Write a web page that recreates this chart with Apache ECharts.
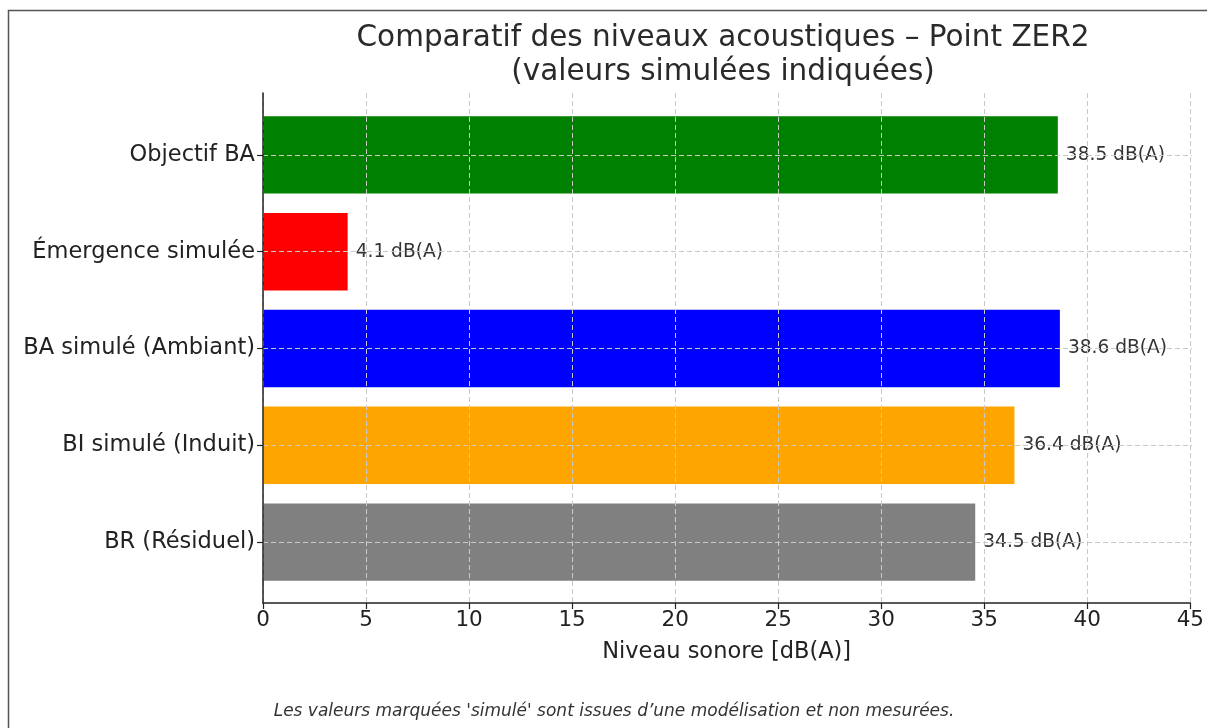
<!DOCTYPE html>
<html>
<head>
<meta charset="utf-8">
<script src="https://cdn.jsdelivr.net/npm/echarts@6/dist/echarts.min.js"></script>
<style>html,body{margin:0;padding:0;background:#fff;}#c{width:1207px;height:728px;}</style>
</head>
<body>
<div id="c"></div>
<script>
const categories = ['BR (Résiduel)', 'BI simulé (Induit)', 'BA simulé (Ambiant)', 'Émergence simulée', 'Objectif BA'];
const values = [34.5, 36.4, 38.6, 4.1, 38.5];
const colors = ['#808080', '#FFA500', '#0000FF', '#FF0000', '#008000'];
const xTicks = [0, 5, 10, 15, 20, 25, 30, 35, 40, 45];

const FONT = 'DejaVu Sans';
const chart = echarts.init(document.getElementById('c'), null, {renderer: 'canvas'});
chart.setOption({
  animation: false,
  backgroundColor: '#fff',
  textStyle: {fontFamily: FONT},
  title: {
    text: 'Comparatif des niveaux acoustiques – Point ZER2\n(valeurs simulées indiquées)',
    left: 718, top: 16, textAlign: 'center',
    textStyle: {fontFamily: FONT, fontSize: 29.5, fontWeight: 'normal', color: '#2a2a2a', lineHeight: 34}
  },
  graphic: [
    {type: 'rect', shape: {x: 8.5, y: 10.5, width: 1400, height: 900}, style: {fill: 'none', stroke: '#555', lineWidth: 1.5}, silent: true, z: 100},
    {type: 'text', x: 614, y: 712, style: {text: "Les valeurs marquées 'simulé' sont issues d’une modélisation et non mesurées.", font: 'italic 17px "DejaVu Sans"', fill: '#333', textAlign: 'center', textVerticalAlign: 'middle'}}
  ],
  grid: [
    {left: 263, right: 15, top: 93, bottom: 125},
    {left: 263, right: 15, top: 106.5, bottom: 137.5}
  ],
  xAxis: [
    {gridIndex: 0, type: 'value', min: 0, max: 45, interval: 5, z: 10,
     name: 'Niveau sonore [dB(A)]', nameLocation: 'middle', nameGap: 38,
     nameTextStyle: {fontFamily: FONT, fontSize: 22.5, color: '#222'},
     axisLine: {show: true, lineStyle: {color: '#222', width: 1.5}},
     axisTick: {show: true, length: 6, lineStyle: {color: '#222', width: 1.2}},
     axisLabel: {fontFamily: FONT, fontSize: 21.5, color: '#222', margin: 6,
       formatter: v => xTicks.includes(v) ? String(v) : ''},
     splitLine: {show: true, lineStyle: {color: '#c8c8c8', type: [5, 3], width: 1}}
    },
    {gridIndex: 1, type: 'value', min: 0, max: 45, show: false}
  ],
  yAxis: [
    {gridIndex: 0, type: 'value', min: 0, max: 1, z: 10,
     axisLine: {show: true, lineStyle: {color: '#222', width: 1.5}},
     axisTick: {show: false}, axisLabel: {show: false}, splitLine: {show: false}},
    {gridIndex: 1, type: 'category', data: categories,
     axisLine: {show: false},
     axisTick: {show: true, alignWithLabel: true, length: 6, lineStyle: {color: '#222', width: 1.2}},
     axisLabel: {fontFamily: FONT, fontSize: 22.5, color: '#222', margin: 8},
     splitLine: {show: false}}
  ],
  series: [{
    type: 'bar', xAxisIndex: 1, yAxisIndex: 1,
    data: values.map((v, i) => ({value: v, itemStyle: {color: colors[i]}})),
    barWidth: '80%',
    label: {show: true, position: 'right', distance: 8, fontFamily: FONT, fontSize: 18.6, color: '#333',
      formatter: p => p.value.toFixed(1) + ' dB(A)'},
    markLine: {
      silent: true, symbol: 'none', label: {show: false},
      lineStyle: {color: '#c8c8c8', type: [5, 3], width: 1},
      data: categories.map(c => ({yAxis: c}))
    }
  }]
});
</script>
</body>
</html>
